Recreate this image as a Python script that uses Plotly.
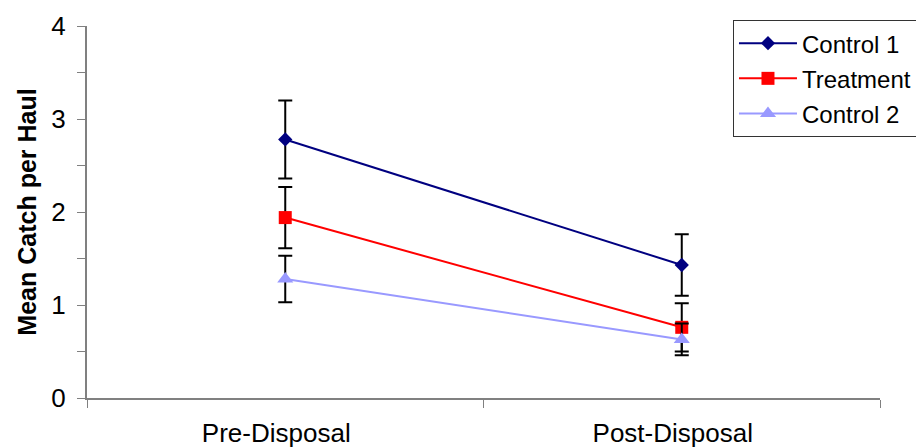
import plotly.graph_objects as go

periods = ['Pre-Disposal', 'Post-Disposal']

control1 = [2.78, 1.43]
control1_err = [0.42, 0.33]
treatment = [1.94, 0.76]
treatment_err = [0.33, 0.26]
control2 = [1.28, 0.63]
control2_err = [0.25, 0.17]

series = [
    ('Control 1', control1, control1_err, '#000080', 'diamond', 11),
    ('Treatment', treatment, treatment_err, '#FF0000', 'square', 13),
    ('Control 2', control2, control2_err, '#9999FF', 'triangle-up', 14),
]

fig = go.Figure()
for name, vals, err, color, symbol, size in series:
    fig.add_trace(go.Scatter(
        x=periods, y=vals, name=name, legendgroup=name,
        mode='lines+markers',
        line=dict(color=color, width=2),
        marker=dict(symbol=symbol, size=size, color=color),
        error_y=dict(type='data', array=err, visible=True,
                     color='black', thickness=2, width=7),
    ))

# page body adds an 8px offset, margins below account for it
fig.update_layout(
    width=924, height=448,
    margin=dict(l=79, r=52, t=16, b=58),
    plot_bgcolor='white', paper_bgcolor='white',
    font=dict(family='Arial, Liberation Sans, sans-serif', size=26, color='black'),
    legend=dict(x=0.8146, y=1.016, xanchor='left', yanchor='top',
                bordercolor='#333333', borderwidth=1,
                font=dict(size=24), itemwidth=58, tracegroupgap=1),
)
fig.update_xaxes(
    type='category', range=[-0.5, 1.5], automargin=False,
    showline=True, linecolor='#808080', linewidth=2,
    ticks='outside', tickson='boundaries', ticklen=8, tickcolor='#808080',
    ticklabelstandoff=11, ticklabelshift=-9, showgrid=False,
)
fig.update_yaxes(
    range=[0, 4], tickvals=[0, 1, 2, 3, 4], automargin=False,
    showline=True, linecolor='#808080', linewidth=2,
    ticks='outside', ticklen=8, tickcolor='#808080',
    minor=dict(dtick=0.5, ticks='outside', ticklen=8, tickcolor='#808080'),
    ticklabelstandoff=6, showgrid=False, zeroline=False,
    title=dict(text='<b>Mean Catch per Haul</b>', font=dict(size=25), standoff=8),
)

fig.write_html('out.html')
